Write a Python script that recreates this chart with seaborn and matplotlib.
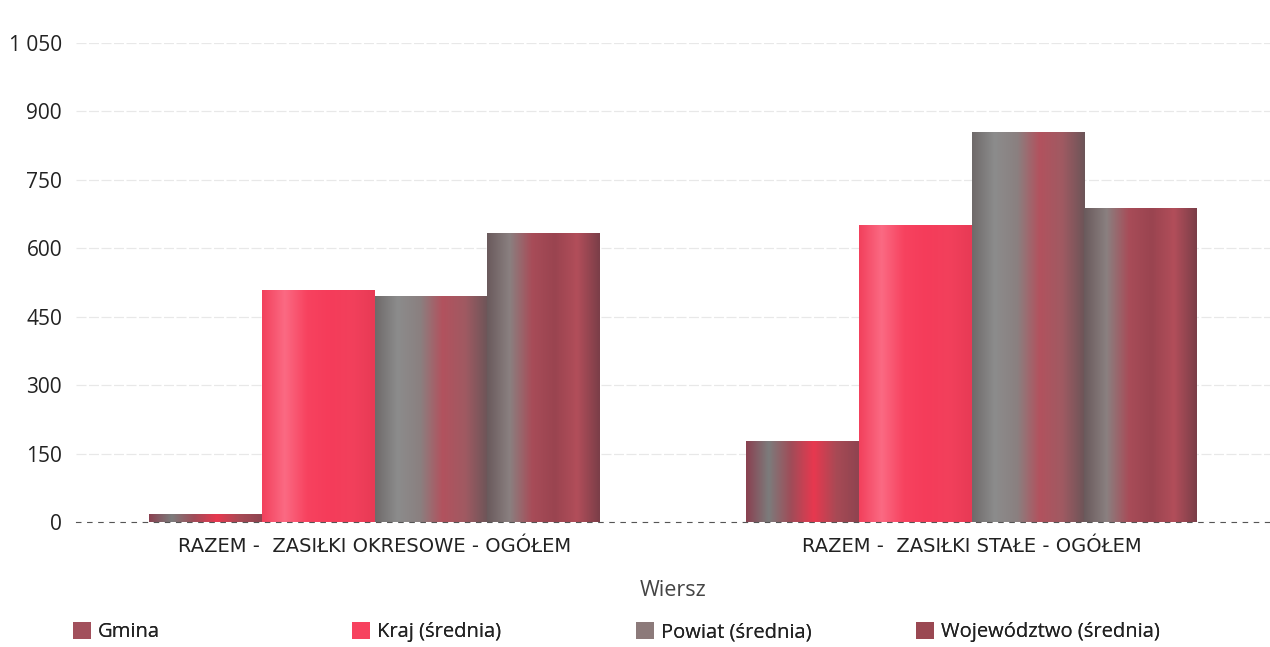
import numpy as np
import pandas as pd
import matplotlib
matplotlib.use("Agg")
import matplotlib.pyplot as plt
import seaborn as sns
from matplotlib.colors import LinearSegmentedColormap
from matplotlib.patches import Patch
from matplotlib.ticker import FuncFormatter, MultipleLocator

# ---- data ----
categories = ["RAZEM -  ZASIŁKI OKRESOWE - OGÓŁEM", "RAZEM -  ZASIŁKI STAŁE - OGÓŁEM"]
series = ["Gmina", "Kraj (średnia)", "Powiat (średnia)", "Województwo (średnia)"]
gmina = [18, 177]
kraj = [509, 650]
powiat = [496, 855]
wojewodztwo = [633, 688]

df = pd.DataFrame({
    "Wiersz": categories * 4,
    "Seria": [s for s in series for _ in categories],
    "Wartość": gmina + kraj + powiat + wojewodztwo,
})

# ---- style ----
sns.set_theme(style="white")
plt.rcParams["font.family"] = ["Open Sans", "DejaVu Sans"]

base_colors = ["#a2505c", "#f7425f", "#8c7a7a", "#9a4852"]
gradients = [
    ["#8a4050", "#7c7c7c", "#a04c58", "#e8384f", "#a84a55", "#8e4450"],
    ["#f2405c", "#fb6a83", "#f7425f", "#f53c5a", "#f2405c", "#e83a55"],
    ["#6f6a6a", "#8c8c8c", "#8a8080", "#b2525e", "#a05a62", "#6c5558"],
    ["#6a5a5c", "#8a8080", "#a84c58", "#9a4450", "#b24e5a", "#7a3e48"],
]

fig = plt.figure(figsize=(12.7, 6.47), dpi=100)
ax = fig.add_axes([76 / 1270, 1 - 522 / 647, 1 - 76 / 1270, (522 - 43) / 647])

sns.barplot(data=df, x="Wiersz", y="Wartość", hue="Seria", hue_order=series,
            palette=base_colors, width=0.757, dodge=True, legend=False,
            saturation=1, ax=ax, linewidth=0, errorbar=None)

ax.set_xlim(-0.5, 1.5)
ax.set_ylim(0, 1050)
ax.yaxis.set_major_locator(MultipleLocator(150))
ax.yaxis.set_major_formatter(FuncFormatter(lambda v, p: f"{int(v):,}".replace(",", " ")))
ax.grid(axis="y", color="#e8e8e8", linewidth=0.9, linestyle=(0, (8, 2)))
ax.set_axisbelow(True)
for s in ["top", "right", "left"]:
    ax.spines[s].set_visible(False)
ax.spines["bottom"].set_color("#555555")
ax.spines["bottom"].set_linestyle((0, (4, 6)))
ax.spines["bottom"].set_linewidth(0.8)

ax.tick_params(axis="y", labelsize=15, colors="#222222", length=0, pad=10)
ax.tick_params(axis="x", length=0, pad=11)
for t in ax.get_xticklabels():
    t.set_fontfamily(["DejaVu Sans"])
    t.set_fontsize(14)
    t.set_color("#222222")
ax.set_ylabel("")
ax.set_xlabel("Wiersz", fontsize=15.5, color="#444444", labelpad=17)

# gradient fills clipped to each bar
for cont, stops in zip(ax.containers, gradients):
    cmap = LinearSegmentedColormap.from_list("g", stops)
    grad = np.linspace(0, 1, 256).reshape(1, -1)
    for bar in cont:
        x0, y0 = bar.get_x(), bar.get_y()
        w, h = bar.get_width(), bar.get_height()
        im = ax.imshow(grad, cmap=cmap, aspect="auto",
                       extent=[x0, x0 + w, y0, y0 + h], zorder=bar.get_zorder(),
                       interpolation="bicubic")
        im.set_clip_path(bar)
        bar.set_facecolor("none")
ax.set_xlim(-0.5, 1.5)
ax.set_ylim(0, 1050)

# legend: four equally spaced entries
legend_x = [73, 352, 636, 916]
for name, col, lx in zip(series, base_colors, legend_x):
    h = Patch(facecolor=col, edgecolor="none")
    lg = fig.legend(handles=[h], labels=[name], loc="center left",
                    bbox_to_anchor=(lx / 1270, 1 - 632 / 647), frameon=False,
                    fontsize=14.5, handlelength=0.9, handleheight=0.9,
                    handletextpad=0.35, borderaxespad=0, borderpad=0)
    for t in lg.get_texts():
        t.set_color("#222222")
    fig.add_artist(lg)

fig.savefig("out.png", dpi=100, facecolor="white")
